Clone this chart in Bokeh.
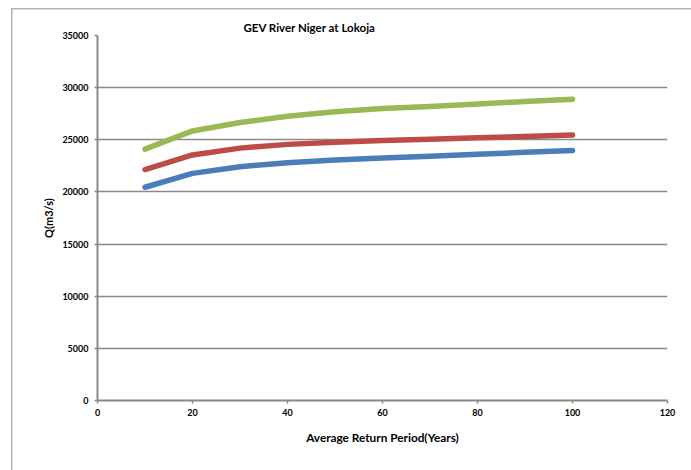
from bokeh.plotting import figure
from bokeh.models import FixedTicker
from bokeh.embed import file_html
from bokeh.resources import INLINE

# GEV flood quantiles for the River Niger at Lokoja
return_period = [10, 20, 30, 40, 50, 60, 70, 80, 90, 100]
q_lower = [20450, 21780, 22420, 22800, 23060, 23260, 23420, 23610, 23800, 23980]
q_mid = [22150, 23550, 24200, 24560, 24770, 24930, 25060, 25190, 25320, 25460]
q_upper = [24100, 25850, 26650, 27250, 27680, 27990, 28200, 28420, 28670, 28890]

x_ticks = [0, 20, 40, 60, 80, 100, 120]
y_ticks = [0, 5000, 10000, 15000, 20000, 25000, 30000, 35000]

FONT = "Lato"
GRID = "#8a8a8a"
EDGE = "#b4b4b4"

p = figure(
    frame_width=570, frame_height=365,
    min_border_left=97, min_border_right=24,
    min_border_top=35, min_border_bottom=70,
    x_range=(0, 120), y_range=(0, 35000),
    output_backend="svg", toolbar_location=None,
    title="GEV River Niger at Lokoja",
)
p.outline_line_color = None
p.background_fill_color = "white"
p.border_fill_color = None

# chart-area edge on the left and top, drawn behind the transparent border
p.styles = {
    "background": (
        f"linear-gradient({EDGE},{EDGE}) 11px 8px / 1.5px 100% no-repeat, "
        f"linear-gradient({EDGE},{EDGE}) 11px 8px / 100% 1.5px no-repeat, white"
    ),
}

p.title.text_font = FONT
p.title.text_font_size = "11.5px"
p.title.text_font_style = "bold"
p.title.text_color = "#000000"
p.title.align = "left"
p.title.offset = 146
p.title.standoff = 4

for ax in (p.xaxis[0], p.yaxis[0]):
    ax.axis_line_color = GRID
    ax.axis_line_width = 2
    ax.major_tick_line_color = GRID
    ax.major_tick_line_width = 1.5
    ax.major_tick_in = 0
    ax.major_tick_out = 3
    ax.minor_tick_line_color = None
    ax.major_label_text_font = FONT
    ax.major_label_text_font_size = "9px"
    ax.major_label_text_font_style = "bold"
    ax.major_label_text_color = "#000000"
    ax.axis_label_text_font = FONT
    ax.axis_label_text_font_style = "bold"
    ax.axis_label_text_color = "#000000"

p.xaxis.ticker = FixedTicker(ticks=x_ticks)
p.yaxis.ticker = FixedTicker(ticks=y_ticks)
p.xaxis.major_label_standoff = 5
p.yaxis.major_label_standoff = 6
p.xaxis.axis_label = "Average Return Period(Years)"
p.yaxis.axis_label = "Q(m3/s)"
p.xaxis.axis_label_text_font_size = "11.8px"
p.yaxis.axis_label_text_font_size = "11px"
p.xaxis.axis_label_standoff = 11
p.yaxis.axis_label_standoff = 4

p.xgrid.grid_line_color = None
p.ygrid.grid_line_color = GRID
p.ygrid.grid_line_width = 1.5

for ys, color in ((q_lower, "#4a7ebb"), (q_mid, "#be4b48"), (q_upper, "#98b954")):
    p.line(return_period, ys, line_color=color, line_width=5.5,
           line_cap="round", line_join="round")

open("out.html", "w").write(file_html(p, INLINE))
